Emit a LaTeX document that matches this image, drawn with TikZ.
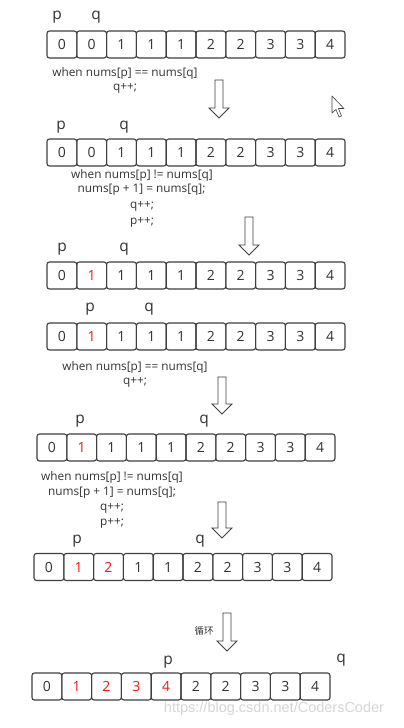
\documentclass[tikz,border=0pt]{standalone}
\usepackage{fontspec}
\setmainfont{Open Sans}
\newfontfamily\cjkfont{Noto Sans CJK SC}
\newfontfamily\wmfont{Liberation Sans}
\definecolor{boxgray}{HTML}{404040}
\definecolor{txtgray}{HTML}{333333}
\definecolor{redval}{HTML}{F01818}
\definecolor{wmgray}{HTML}{D6D6D6}
\newcommand\drawrow[4]{%
  \foreach \v/\col [count=\i] in {#4} {%
    \node[cell,text=\col] (r#1c\i) at ({#2+(\i-0.5)*29.8},{#3}) {\v};}}
\newcommand\blockarrow[3]{%
  \draw[barrow] ({#1-4},{#2}) -- ({#1+4},{#2}) -- ({#1+4},{#3-10}) -- ({#1+10},{#3-10})
    -- ({#1},{#3}) -- ({#1-10},{#3-10}) -- ({#1-4},{#3-10}) -- cycle;}
\begin{document}
\begin{tikzpicture}[x=1pt,y=-1pt,
  cell/.style={draw=boxgray, line width=1.1pt, rounded corners=2.5pt,
    minimum width=29.8pt, minimum height=27pt, inner sep=0pt,
    font=\fontsize{14}{14}\selectfont},
  ptr/.style={text=txtgray, inner sep=0pt, font=\fontsize{15.5}{15.5}\selectfont},
  code/.style={text=txtgray, inner sep=0pt, font=\fontsize{11.8}{11.8}\selectfont},
  barrow/.style={draw=boxgray, line width=0.9pt, fill=white, line join=miter}]
\fill[white] (0,0) rectangle (404,728);
\useasboundingbox (0,0) rectangle (404,728);

% row 1
\node[ptr] (p1) at (57,17) {p};
\node[ptr] (q1) at (96,17) {q};
\drawrow{1}{47}{44.5}{0/txtgray,0/txtgray,1/txtgray,1/txtgray,1/txtgray,2/txtgray,2/txtgray,3/txtgray,3/txtgray,4/txtgray}
\node[code] (t1a) at (125,73) {when nums[p] == nums[q]};
\node[code] (t1b) at (125,88) {q++;};
\blockarrow{219}{80}{118}

% cursor
\draw[fill=white, draw=black!75, line width=0.6pt, line join=round]
  (332,96) -- (332,113) -- (336,109.5) -- (339,117) -- (341.5,116) -- (338.5,108.5) -- (344,108.5) -- cycle;

% row 2
\node[ptr] (p2) at (61,127) {p};
\node[ptr] (q2) at (124,127) {q};
\drawrow{2}{47}{152.5}{0/txtgray,0/txtgray,1/txtgray,1/txtgray,1/txtgray,2/txtgray,2/txtgray,3/txtgray,3/txtgray,4/txtgray}
\node[code] (t2a) at (142,175) {when nums[p] != nums[q]};
\node[code] (t2b) at (141.5,190) {nums[p + 1] = nums[q];};
\node[code] (t2c) at (142,206) {q++;};
\node[code] (t2d) at (142,222) {p++;};
\blockarrow{249}{217}{255}

% row 3
\node[ptr] (p3) at (62,249) {p};
\node[ptr] (q3) at (124,249) {q};
\drawrow{3}{47}{275.5}{0/txtgray,1/redval,1/txtgray,1/txtgray,1/txtgray,2/txtgray,2/txtgray,3/txtgray,3/txtgray,4/txtgray}

% row 4
\node[ptr] (p4) at (90,309) {p};
\node[ptr] (q4) at (149,309) {q};
\drawrow{4}{47}{336.5}{0/txtgray,1/redval,1/txtgray,1/txtgray,1/txtgray,2/txtgray,2/txtgray,3/txtgray,3/txtgray,4/txtgray}
\node[code] (t4a) at (135,367) {when nums[p] == nums[q]};
\node[code] (t4b) at (135,382) {q++;};
\blockarrow{222}{377}{414}

% row 5
\node[ptr] (p5) at (80,421) {p};
\node[ptr] (q5) at (204,421) {q};
\drawrow{5}{37}{447.5}{0/txtgray,1/redval,1/txtgray,1/txtgray,1/txtgray,2/txtgray,2/txtgray,3/txtgray,3/txtgray,4/txtgray}
\node[code] (t5a) at (112,477) {when nums[p] != nums[q]};
\node[code] (t5b) at (112,493) {nums[p + 1] = nums[q];};
\node[code] (t5c) at (112,508) {q++;};
\node[code] (t5d) at (112,523) {p++;};
\blockarrow{222}{502}{538}

% row 6
\node[ptr] (p6) at (77,541) {p};
\node[ptr] (q6) at (200,541) {q};
\drawrow{6}{34}{567}{0/txtgray,1/redval,2/redval,1/txtgray,1/txtgray,2/txtgray,2/txtgray,3/txtgray,3/txtgray,4/txtgray}

% loop arrow
\node[text=txtgray, inner sep=0pt, font=\cjkfont\fontsize{9.5}{9.5}\selectfont] (loop) at (204,631) {循环};
\blockarrow{227}{613}{651}

% row 7
\node[ptr] (p7) at (168,662) {p};
\node[ptr] (q7) at (341,660) {q};
\drawrow{7}{32}{686.5}{0/txtgray,1/redval,2/redval,3/redval,4/redval,2/txtgray,2/txtgray,3/txtgray,3/txtgray,4/txtgray}

% watermark
\node[text=wmgray, inner sep=0pt, font=\wmfont\fontsize{14.5}{14.5}\selectfont] (wm) at (274,709) {https://blog.csdn.net/CodersCoder};
\end{tikzpicture}
\end{document}
